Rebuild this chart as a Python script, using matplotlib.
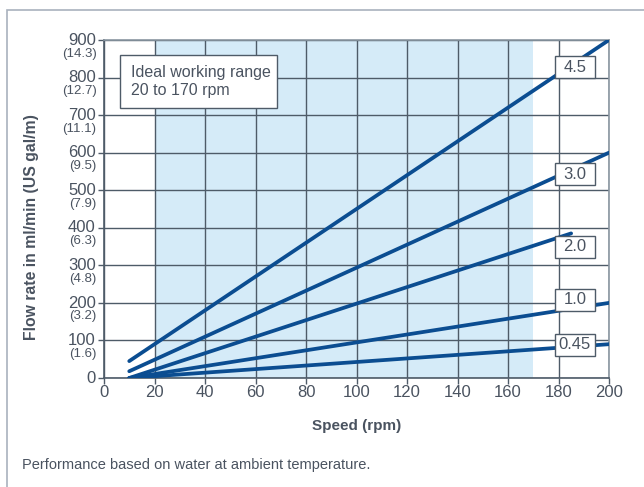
import matplotlib
matplotlib.use("Agg")
import matplotlib.pyplot as plt
from matplotlib.patches import Rectangle
import matplotlib.transforms as mtransforms

plt.rcParams['font.family'] = ['Liberation Sans', 'DejaVu Sans']

# Data
tube_sizes = ["4.5", "3.0", "2.0", "1.0", "0.45"]
speed_start = [10, 10, 10, 10, 10]
speed_end = [200, 200, 185, 200, 200]
flow_start = [45, 18, 0, 0, 0]
flow_end = [900, 600, 385, 200, 90]
label_x = [186.5, 186.5, 186.5, 186.5, 186.5]
label_y = [828, 543, 349, 208, 88]

y_ticks = [0, 100, 200, 300, 400, 500, 600, 700, 800, 900]
y_gal = ["", "(1.6)", "(3.2)", "(4.8)", "(6.3)", "(7.9)", "(9.5)", "(11.1)", "(12.7)", "(14.3)"]
x_ticks = [0, 20, 40, 60, 80, 100, 120, 140, 160, 180, 200]
ideal_range = [20, 170]

txt = '#4a5360'
grid_c = '#4e5b68'
line_c = '#0b4d91'

fig = plt.figure(figsize=(6.44, 4.87), dpi=100)
W, H = 644, 487
ax = fig.add_axes([104 / W, 1 - 378 / H, (609 - 104) / W, (378 - 40) / H])

# outer frame
fig.patches.append(Rectangle((7 / W, -0.1), 1.2, (H - 10) / H + 0.1, transform=fig.transFigure,
                             fill=False, edgecolor='#a9b2bd', linewidth=1.2))

ax.axvspan(ideal_range[0], ideal_range[1], color='#d5ebf8', zorder=0, linewidth=0)
ax.set_xlim(0, 200)
ax.set_ylim(0, 900)
ax.set_xticks(x_ticks)
ax.set_yticks(y_ticks)
ax.grid(True, color=grid_c, linewidth=1.0, zorder=1)
ax.set_axisbelow(True)
for s in ax.spines.values():
    s.set_color('#8a96a1')
    s.set_linewidth(1.2)
ax.spines['left'].set_color('#4e5b68')
ax.spines['bottom'].set_color('#4e5b68')
ax.tick_params(axis='both', colors=grid_c, labelcolor=txt, labelsize=12, length=4, width=1, direction='out')
ax.set_yticklabels([str(v) for v in y_ticks])
ax.tick_params(axis='y', pad=2)
ax.tick_params(axis='x', pad=1)
offset = mtransforms.ScaledTranslation(0, 1 / 72, fig.dpi_scale_trans)
for lab in ax.get_yticklabels():
    lab.set_transform(lab.get_transform() + offset)

trans = mtransforms.blended_transform_factory(ax.transAxes, ax.transData)
for v, g in zip(y_ticks, y_gal):
    if g:
        ax.text(-0.015, v - 20, g, transform=trans, ha='right', va='top', fontsize=9.5, color=txt)

for xs, xe, ys, ye in zip(speed_start, speed_end, flow_start, flow_end):
    ax.plot([xs, xe], [ys, ye], color=line_c, linewidth=2.7, solid_capstyle='round', zorder=3)

for name, lx, ly in zip(tube_sizes, label_x, label_y):
    ax.add_patch(Rectangle((lx - 8, ly - 29), 16, 58, facecolor='white', edgecolor='#4e5b68',
                           linewidth=1.0, zorder=4))
    ax.text(lx, ly, name, ha='center', va='center', fontsize=12, color=txt, zorder=5)

ax.add_patch(Rectangle((6.3, 719), 62.2, 141, facecolor='white', edgecolor='#4e5b68',
                       linewidth=1.0, zorder=4))
ax.text(10.5, 790, "Ideal working range\n20 to 170 rpm", ha='left', va='center', fontsize=11.5, color=txt,
        zorder=5, linespacing=1.2)

ax.set_xlabel("Speed (rpm)", fontsize=11, fontweight='bold', color=txt, labelpad=14)
fig.text(32 / W, 1 - 227 / H, "Flow rate in ml/min (US gal/m)", rotation=90, ha='center', va='center',
         fontsize=11.3, fontweight='bold', color=txt)
fig.text(22 / W, 1 - 465 / H, "Performance based on water at ambient temperature.", ha='left', va='center',
         fontsize=10.5, color=txt)

fig.savefig("out.png", dpi=100)
